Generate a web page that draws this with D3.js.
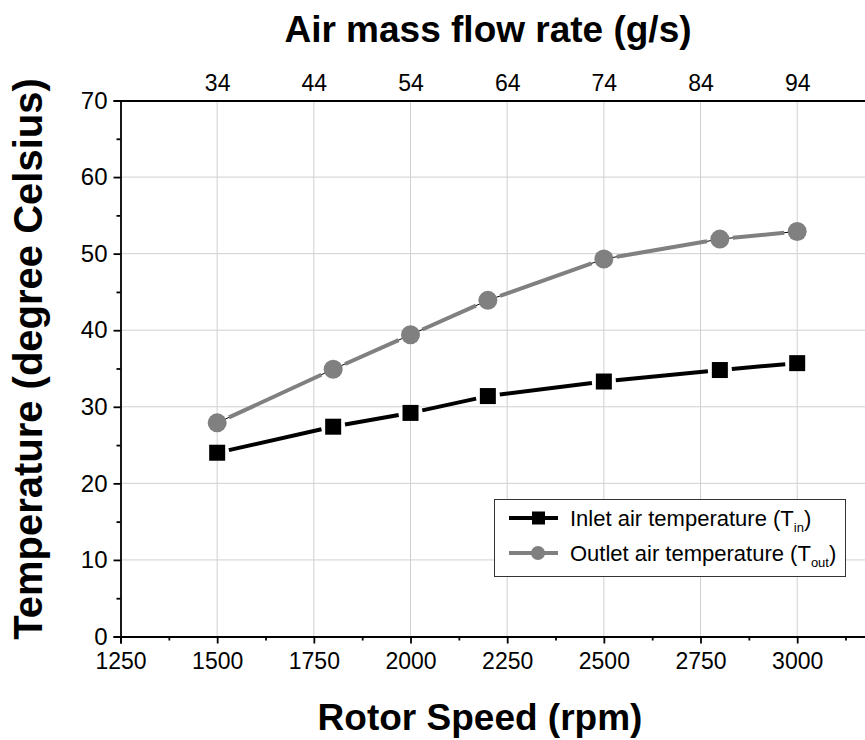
<!DOCTYPE html>
<html>
<head>
<meta charset="utf-8">
<script src="https://cdn.jsdelivr.net/npm/d3@7"></script>
<style>
  html, body { margin: 0; padding: 0; background: #fff; }
  svg { display: block; font-family: "Liberation Sans", Arial, Helvetica, sans-serif; }
</style>
</head>
<body>
<svg id="chart" width="865" height="740"></svg>
<script>
// ---- data ----
const rotorSpeed = [1500, 1800, 2000, 2200, 2500, 2800, 3000];
const inletTemp  = [24.0, 27.4, 29.2, 31.4, 33.3, 34.8, 35.7];
const outletTemp = [27.9, 34.9, 39.4, 43.9, 49.3, 51.9, 52.9];
const bottomTicks = [1250, 1500, 1750, 2000, 2250, 2500, 2750, 3000];
const topTicks = [34, 44, 54, 64, 74, 84, 94];
const yTicks = [0, 10, 20, 30, 40, 50, 60, 70];
const seriesNames = ["Inlet air temperature (T", "Outlet air temperature (T"];
const seriesSubs = ["in", "out"];

(function() {
const svg = d3.select("#chart");
const pLeft = 120.5, pTop = 100.5, pBottom = 636.5;
const x = d3.scaleLinear().domain([1250, 3250]).range([pLeft, pLeft + 96.67 * 8]);
const xTop = d3.scaleLinear().domain([24, 104]).range([pLeft, pLeft + 96.67 * 8]);
const y = d3.scaleLinear().domain([0, 70]).range([pBottom, pTop]);

const g = svg.append("g");

// grid
g.append("g").selectAll("line").data(bottomTicks.slice(1)).join("line")
  .attr("x1", d => x(d)).attr("x2", d => x(d)).attr("y1", pTop).attr("y2", pBottom)
  .attr("stroke", "#d0d0d0").attr("stroke-width", 1);
g.append("g").selectAll("line").data(yTicks.slice(1, -1)).join("line")
  .attr("x1", pLeft).attr("x2", 900).attr("y1", d => y(d)).attr("y2", d => y(d))
  .attr("stroke", "#d0d0d0").attr("stroke-width", 1);

// bottom axis
const minorX = d3.range(1375, 3300, 250);
g.append("g").attr("class", "xb").attr("transform", `translate(0,${pBottom})`)
  .call(d3.axisBottom(x).tickValues(bottomTicks).tickFormat(d3.format("d")).tickSize(7).tickPadding(9));
g.append("g").attr("transform", `translate(0,${pBottom})`)
  .call(d3.axisBottom(x).tickValues(minorX).tickFormat("").tickSize(4))
  .select(".domain").remove();

// left axis
const minorY = d3.range(5, 70, 10);
g.append("g").attr("class", "yl").attr("transform", `translate(${pLeft},0)`)
  .call(d3.axisLeft(y).tickValues(yTicks).tickSize(7).tickPadding(6));
g.append("g").attr("transform", `translate(${pLeft},0)`)
  .call(d3.axisLeft(y).tickValues(minorY).tickFormat("").tickSize(4))
  .select(".domain").remove();

// top axis
g.append("g").attr("class", "xt").attr("transform", `translate(0,${pTop})`)
  .call(d3.axisTop(xTop).tickValues(topTicks).tickSize(0).tickPadding(10));

svg.selectAll(".tick text").attr("font-family", "'Liberation Sans', Arial, sans-serif").attr("fill", "#000");
svg.selectAll(".xb .tick text, .xt .tick text").attr("font-size", 23);
svg.selectAll(".yl .tick text").attr("font-size", 24);
svg.selectAll(".domain, .tick line").attr("stroke", "#000").attr("stroke-width", 1.8);

// series
function trimmedSegments(xs, ys, gap) {
  const segs = [];
  for (let i = 0; i < xs.length - 1; i++) {
    const x1 = x(xs[i]), y1 = y(ys[i]), x2 = x(xs[i+1]), y2 = y(ys[i+1]);
    const dx = x2 - x1, dy = y2 - y1, L = Math.hypot(dx, dy);
    const ux = dx / L, uy = dy / L;
    segs.push({x1: x1 + ux*gap, y1: y1 + uy*gap, x2: x2 - ux*gap, y2: y2 - uy*gap});
  }
  return segs;
}
const line = d3.line().x((d, i) => x(rotorSpeed[i])).y(d => y(d));

// outlet (gray)
g.append("path").attr("d", line(outletTemp)).attr("fill", "none").attr("stroke", "#000").attr("stroke-width", 1);
g.append("g").selectAll("line").data(trimmedSegments(rotorSpeed, outletTemp, 13)).join("line")
  .attr("x1", d => d.x1).attr("y1", d => d.y1).attr("x2", d => d.x2).attr("y2", d => d.y2)
  .attr("stroke", "#808080").attr("stroke-width", 4);
g.append("g").selectAll("circle").data(outletTemp).join("circle")
  .attr("cx", (d, i) => x(rotorSpeed[i])).attr("cy", d => y(d)).attr("r", 9.5).attr("fill", "#808080");

// inlet (black)
g.append("g").selectAll("line").data(trimmedSegments(rotorSpeed, inletTemp, 12)).join("line")
  .attr("x1", d => d.x1).attr("y1", d => d.y1).attr("x2", d => d.x2).attr("y2", d => d.y2)
  .attr("stroke", "#000").attr("stroke-width", 4);
g.append("g").selectAll("rect").data(inletTemp).join("rect")
  .attr("x", (d, i) => x(rotorSpeed[i]) - 8).attr("y", d => y(d) - 8).attr("width", 16).attr("height", 16).attr("fill", "#000");

// legend
const lg = svg.append("g");
lg.append("rect").attr("x", 494.5).attr("y", 499.5).attr("width", 351).attr("height", 77)
  .attr("fill", "#fff").attr("stroke", "#333").attr("stroke-width", 1);
const legY = [518, 553];
const colors = ["#000", "#808080"];
seriesNames.forEach((name, i) => {
  lg.append("line").attr("x1", 509).attr("x2", 558).attr("y1", legY[i]).attr("y2", legY[i])
    .attr("stroke", colors[i]).attr("stroke-width", 4);
  if (i === 0) lg.append("rect").attr("x", 532).attr("y", legY[i] - 6.5).attr("width", 13).attr("height", 13).attr("fill", "#000");
  else lg.append("circle").attr("cx", 538).attr("cy", legY[i]).attr("r", 7).attr("fill", "#808080");
  const t = lg.append("text").attr("x", 570).attr("y", legY[i] + 8).attr("font-size", 22).attr("fill", "#000");
  t.append("tspan").text(name);
  t.append("tspan").attr("font-size", 13).attr("dy", 6).text(seriesSubs[i]);
  t.append("tspan").attr("dy", -6).text(")");
});

// titles
svg.append("text").attr("x", 488).attr("y", 42).attr("text-anchor", "middle")
  .attr("font-size", 37).attr("font-weight", "bold").text("Air mass flow rate (g/s)");
svg.append("text").attr("x", 480).attr("y", 730).attr("text-anchor", "middle")
  .attr("font-size", 37).attr("font-weight", "bold").text("Rotor Speed (rpm)");
svg.append("text").attr("transform", "translate(42,359) rotate(-90)").attr("text-anchor", "middle")
  .attr("font-size", 40).attr("font-weight", "bold").text("Temperature (degree Celsius)");
})();
</script>
</body>
</html>
